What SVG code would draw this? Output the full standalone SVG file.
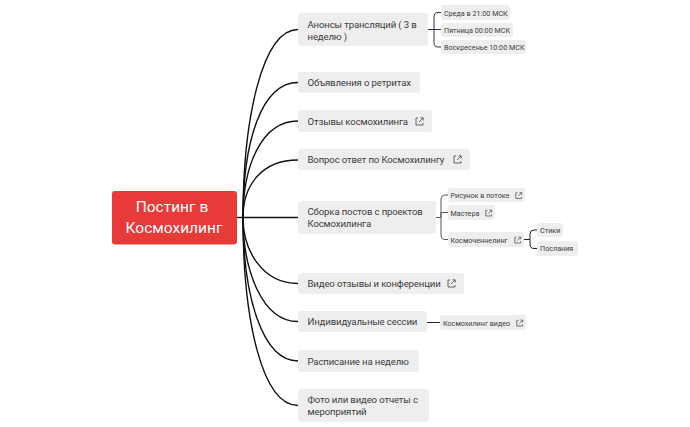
<svg xmlns="http://www.w3.org/2000/svg" width="690" height="427" viewBox="0 0 690 427">
<defs>
<g id="ext" fill="none" stroke="#555" stroke-width="0.9"><path d="M3 1H1V8H8V6"/><path d="M4 5L8 1M5.500 0.800H8.200V3.500"/></g>
<g id="exts" fill="none" stroke="#555" stroke-width="0.8"><path d="M2.500 0.800H0.800V6.500H6.500V4.800"/><path d="M3.300 4L6.500 0.800M4.500 0.600H6.700V2.800"/></g>
</defs>
<style>
text{font-family:"Roboto","Noto Sans",sans-serif;fill:#3c3c3c}
.b{fill:#eeeeee}
.m{font-size:9.6px;letter-spacing:-0.14px}
.s{font-size:7.2px}
.c{fill:none;stroke:#111;stroke-width:1.4}
.r{font-size:15.5px;fill:#fff;text-anchor:middle}
</style>
<rect width="690" height="427" fill="#fff"/>
<g id="connectors">
<path class="c" d="M237 217.5H243"/>
<path class="c" d="M243 217.5C243 120 262 29.5 298 29.5"/>
<path class="c" d="M243 217.5C243 140 262 82.5 298 82.5"/>
<path class="c" d="M243 217.5C243 165 262 121 298 121"/>
<path class="c" d="M243 217.5C243 185 262 160 298 160"/>
<path class="c" d="M243 217.5H298"/>
<path class="c" d="M243 217.5C243 250 262 283.500 298 283.500"/>
<path class="c" d="M243 217.5C243 270 262 321.500 298 321.500"/>
<path class="c" d="M243 217.5C243 295 262 361 298 361"/>
<path class="c" d="M243 217.5C243 320 262 405.500 298 405.500"/>
<path d="M428 29.500H434M434 29.500V17Q434 12.500 438 12.500H441M434 29.500H441M434 29.500V42.500Q434 47 438 47H441" fill="none" stroke="#333" stroke-width="1"/>
<path d="M436 217.500H441M441 217.500V200Q441 195 445 195H448M441 217.500V212.500H448M441 217.500V235Q441 239.500 445 239.500H448" fill="none" stroke="#555" stroke-width="1"/>
<path d="M524 239.500H530M530 239.500V234Q530 230 534 230H537M530 239.500V244Q530 248.500 534 248.500H537" fill="none" stroke="#222" stroke-width="1"/>
<path d="M427 322.500H440" fill="none" stroke="#222" stroke-width="1"/>
</g>
<g id="root"><rect x="112" y="191" width="125" height="53.500" rx="3" fill="#e83a38"/>
<text class="r" x="172" y="212">Постинг в</text><text class="r" x="174" y="233">Космохилинг</text></g>
<g id="n1"><rect class="b" x="298" y="13" width="130" height="33" rx="3"/><text class="m" x="307.500" y="28">Анонсы трансляций ( 3 в</text><text class="m" x="307.500" y="40">неделю )</text></g>
<g id="n1a"><rect class="b" x="441" y="5" width="69" height="15" rx="3"/><text class="s" x="444" y="15.500">Среда в 21:00 МСК</text></g>
<g id="n1b"><rect class="b" x="441" y="23" width="72" height="14" rx="3"/><text class="s" x="444" y="33">Пятница 00:00 МСК</text></g>
<g id="n1c"><rect class="b" x="441" y="40" width="85" height="14" rx="3"/><text class="s" x="444" y="50">Воскресенье 10:00 МСК</text></g>
<g id="n2"><rect class="b" x="298" y="72" width="122" height="21" rx="3"/><text class="m" x="307.500" y="86">Объявления о ретритах</text></g>
<g id="n3"><rect class="b" x="298" y="110" width="134" height="22" rx="3"/><text class="m" x="307.500" y="125">Отзывы космохилинга</text><use href="#ext" x="415" y="117"/></g>
<g id="n4"><rect class="b" x="298" y="149" width="172" height="21" rx="3"/><text class="m" x="307.500" y="163">Вопрос ответ по Космохилингу</text><use href="#ext" x="453" y="155"/></g>
<g id="n5"><rect class="b" x="298" y="201" width="138" height="33" rx="3"/><text class="m" x="307.500" y="215">Сборка постов с проектов</text><text class="m" x="307.500" y="227">Космохилинга</text></g>
<g id="n5a"><rect class="b" x="448" y="188" width="77" height="14" rx="3"/><text class="s" x="450.500" y="198">Рисунок в потоке</text><use href="#exts" x="515" y="192"/></g>
<g id="n5b"><rect class="b" x="448" y="205" width="47" height="15" rx="3"/><text class="s" x="450.500" y="215.500">Мастера</text><use href="#exts" x="485" y="209.500"/></g>
<g id="n5c"><rect class="b" x="448" y="232" width="76" height="15" rx="3"/><text class="s" x="450.500" y="242.500">Космоченнелинг</text><use href="#exts" x="514" y="236.500"/></g>
<g id="n5c1"><rect class="b" x="537" y="223" width="26" height="14" rx="3"/><text class="s" x="540" y="233">Стики</text></g>
<g id="n5c2"><rect class="b" x="537" y="241" width="41" height="15" rx="3"/><text class="s" x="540" y="251">Послания</text></g>
<g id="n6"><rect class="b" x="298" y="273" width="166" height="21" rx="3"/><text class="m" x="307.500" y="287">Видео отзывы и конференции</text><use href="#ext" x="447" y="279"/></g>
<g id="n7"><rect class="b" x="298" y="311" width="129" height="21" rx="3"/><text class="m" x="307.500" y="325">Индивидуальные сессии</text></g>
<g id="n7a"><rect class="b" x="440" y="315" width="86" height="15" rx="3"/><text class="s" x="443" y="325.500">Космохилинг видео</text><use href="#exts" x="516" y="319.500"/></g>
<g id="n8"><rect class="b" x="298" y="350" width="121" height="22" rx="3"/><text class="m" x="307.500" y="365">Расписание на неделю</text></g>
<g id="n9"><rect class="b" x="298" y="389" width="131" height="33" rx="3"/><text class="m" x="307.500" y="403">Фото или видео отчеты с</text><text class="m" x="307.500" y="415">мероприятий</text></g>
</svg>
